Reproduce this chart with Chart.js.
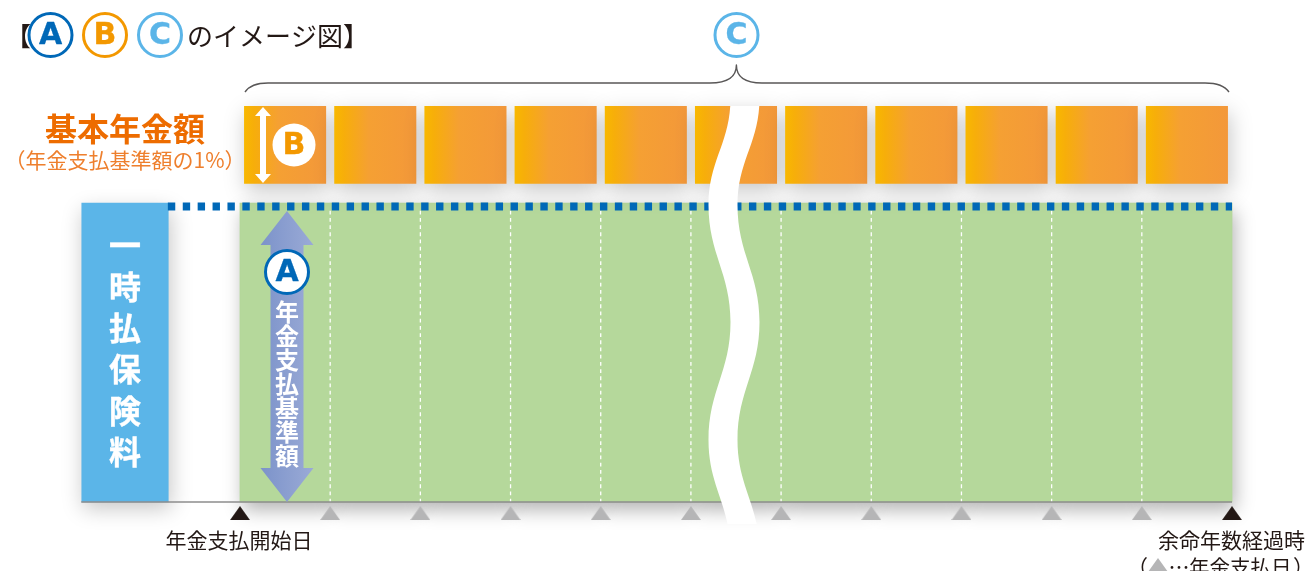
<!DOCTYPE html>
<html lang="ja">
<head>
<meta charset="utf-8">
<title>イメージ図</title>
<script src="https://cdn.jsdelivr.net/npm/chart.js@4"></script>
<style>
html, body { margin: 0; padding: 0; background: #fff; overflow: hidden; }
canvas { display: block; }
</style>
</head>
<body>
<canvas id="myChart" width="1305" height="571"></canvas>
<script>
// データ
var periods = ['1', '2', '3', '4', '5', '6', '7', '8', '9', '10', '11'];
var baseAmount = [100, 100, 100, 100, 100, 100, 100, 100, 100, 100, 100];
var annualLow = [106.4, 106.4, 106.4, 106.4, 106.4, 106.4, 106.4, 106.4, 106.4, 106.4, 106.4];
var annualHigh = [132.4, 132.4, 132.4, 132.4, 132.4, 132.4, 132.4, 132.4, 132.4, 132.4, 132.4];
var paymentDays = [1, 2, 3, 4, 5, 6, 7, 8, 9, 10];
var endDays = [0, 11];
var lumpSumAt = [-1.275];
var lumpSumValue = [100];
var premiumLineFrom = [-0.8];
var premiumLineValue = [98.8];
var axisFrom = [-1.76];
var dividerTop = [97.4];
var markerLevel = [-3.7];

var startLabel = '年金支払開始日';
var endLabel = '余命年数経過時';
var payLabel = '年金支払日';
var sideTitle = '基本年金額';
var sideNote = '（年金支払基準額の1%）';
var premiumLabel = ['一', '時', '払', '保', '険', '料'];
var baseLabel = ['年', '金', '支', '払', '基', '準', '額'];

var JP = '"Noto Sans CJK JP", sans-serif';
var LATIN = '"DejaVu Sans", sans-serif';
var BLUE = '#0068b7', ORANGE = '#f39800', SKY = '#5bb5e8', INK = '#231815', MARK = '#b5b5b6';

function orangeFill(c) {
    if (c.dataIndex === undefined) return ORANGE;
    var center = c.chart.scales.x.getPixelForValue(c.dataIndex);
    if (!isFinite(center)) return ORANGE; // レイアウト前
    var g = c.chart.ctx.createLinearGradient(center - 41, 0, center + 41, 0);
    g.addColorStop(0, '#f8b800');
    g.addColorStop(0.12, '#f7ae0a');
    g.addColorStop(0.42, '#f5a033');
    g.addColorStop(1, '#f3983a');
    return g;
}

// 三角マーカー
function triangleMark(color) {
    var c = document.createElement('canvas');
    c.width = 20;
    c.height = 14;
    var t = c.getContext('2d');
    t.beginPath();
    t.moveTo(10, 0);
    t.lineTo(20, 14);
    t.lineTo(0, 14);
    t.closePath();
    t.fillStyle = color;
    t.fill();
    return c;
}

function text(ctx, str, x, y, font, color, align) {
    ctx.font = font;
    ctx.fillStyle = color;
    ctx.textAlign = align || 'center';
    ctx.textBaseline = 'middle';
    ctx.fillText(str, x, y);
}

function heavyText(ctx, str, x, y, font, color, weight) {
    text(ctx, str, x, y, font, color);
    ctx.lineWidth = weight;
    ctx.lineJoin = 'round';
    ctx.strokeStyle = color;
    ctx.strokeText(str, x, y);
}

function badge(ctx, x, y, r, ring, fill, letter, color) {
    ctx.beginPath();
    ctx.arc(x, y, r, 0, Math.PI * 2);
    ctx.fillStyle = fill;
    ctx.fill();
    if (ring) {
        ctx.lineWidth = 3;
        ctx.strokeStyle = ring;
        ctx.stroke();
    }
    heavyText(ctx, letter, x, y + 1, 'bold 30px ' + LATIN, color, 0.3);
}

function arrow(ctx, x, top, bottom, shaft, head, headLen, fill) {
    ctx.beginPath();
    ctx.moveTo(x, top);
    ctx.lineTo(x + head / 2, top + headLen);
    ctx.lineTo(x + shaft / 2, top + headLen);
    ctx.lineTo(x + shaft / 2, bottom - headLen);
    ctx.lineTo(x + head / 2, bottom - headLen);
    ctx.lineTo(x, bottom);
    ctx.lineTo(x - head / 2, bottom - headLen);
    ctx.lineTo(x - shaft / 2, bottom - headLen);
    ctx.lineTo(x - shaft / 2, top + headLen);
    ctx.lineTo(x - head / 2, top + headLen);
    ctx.closePath();
    ctx.fillStyle = fill;
    ctx.fill();
}

// 影
var shadowPlugin = {
    id: 'shadowPlugin',
    beforeDatasetDraw: function(chart, args) {
        var s = chart.data.datasets[args.index].shadow;
        if (!s) return;
        var ctx = chart.ctx;
        ctx.save();
        ctx.shadowColor = s.color;
        ctx.shadowBlur = s.blur;
        ctx.shadowOffsetX = s.x;
        ctx.shadowOffsetY = s.y;
    },
    afterDatasetDraw: function(chart, args) {
        if (chart.data.datasets[args.index].shadow) chart.ctx.restore();
    }
};

// 波線と説明
var notesPlugin = {
    id: 'notesPlugin',
    afterDatasetsDraw: function(chart) {
        var ctx = chart.ctx;
        ctx.save();

        // 波線
        var y0 = 98, crests = [[745, 98], [723, 205], [745, 322], [723, 440], [745, 552]];
        ctx.save();
        ctx.beginPath();
        ctx.rect(690, 106, 90, 418);
        ctx.clip();
        ctx.beginPath();
        ctx.moveTo(crests[0][0] - 14.5, y0);
        var i, a, b, h;
        for (i = 1; i < crests.length; i++) {
            a = crests[i - 1]; b = crests[i]; h = (b[1] - a[1]) * 0.42;
            ctx.bezierCurveTo(a[0] - 14.5, a[1] + h, b[0] - 14.5, b[1] - h, b[0] - 14.5, b[1]);
        }
        ctx.lineTo(crests[4][0] + 14.5, crests[4][1]);
        for (i = crests.length - 1; i > 0; i--) {
            a = crests[i]; b = crests[i - 1]; h = (a[1] - b[1]) * 0.42;
            ctx.bezierCurveTo(a[0] + 14.5, a[1] - h, b[0] + 14.5, b[1] + h, b[0] + 14.5, b[1]);
        }
        ctx.closePath();
        ctx.fillStyle = '#fff';
        ctx.fill();
        ctx.restore();

        // タイトル
        text(ctx, '【', 5, 36, '500 26px ' + JP, INK, 'left');
        badge(ctx, 50.5, 35, 21.5, BLUE, '#fff', 'A', BLUE);
        badge(ctx, 105, 35, 21.5, ORANGE, '#fff', 'B', ORANGE);
        badge(ctx, 160, 35, 21.5, SKY, '#fff', 'C', SKY);
        text(ctx, 'のイメージ図】', 187, 36, '26px ' + JP, INK, 'left');

        // 括弧
        ctx.beginPath();
        ctx.moveTo(245, 92);
        ctx.quadraticCurveTo(251, 83, 268, 83);
        ctx.lineTo(710, 83);
        ctx.bezierCurveTo(727, 83, 736.4, 78, 736.4, 65);
        ctx.bezierCurveTo(736.4, 78, 746, 83, 762, 83);
        ctx.lineTo(1205, 83);
        ctx.quadraticCurveTo(1223, 83, 1229, 92);
        ctx.lineWidth = 1.4;
        ctx.strokeStyle = '#595757';
        ctx.stroke();
        badge(ctx, 736.5, 35, 21.5, SKY, '#fff', 'C', SKY);

        // 基本年金額
        text(ctx, sideTitle, 125, 129, 'bold 32px ' + JP, '#ed6c00');
        text(ctx, sideNote, 125, 160, '21px ' + JP, '#ee7f2d');
        arrow(ctx, 263, 107, 183, 6, 16, 9, '#fff');
        badge(ctx, 294, 145, 21.5, null, '#fff', 'B', ORANGE);

        // 一時払保険料
        premiumLabel.forEach(function(ch, k) {
            heavyText(ctx, ch, 125, 245 + k * 41.4, 'bold 32px ' + JP, '#fff', 0.4);
        });

        // 年金支払基準額
        var g = ctx.createLinearGradient(261, 0, 313, 0);
        g.addColorStop(0, '#7c93ca');
        g.addColorStop(1, '#9aaad6');
        arrow(ctx, 287, 211, 502, 33, 53, 34, g);
        badge(ctx, 287, 272, 21.5, BLUE, '#fff', 'A', BLUE);
        baseLabel.forEach(function(ch, k) {
            text(ctx, ch, 287, 312 + k * 23.9, 'bold 24px ' + JP, '#fff');
        });

        // 軸のラベル
        text(ctx, startLabel, 239, 540, '21px ' + JP, INK);
        text(ctx, endLabel, 1305, 540, '21px ' + JP, INK, 'right');
        text(ctx, '（', 1127, 567.5, '21px ' + JP, INK, 'left');
        ctx.drawImage(triangleMark(MARK), 1148, 558);
        text(ctx, '…', 1179, 567.5, '21px ' + JP, INK);
        text(ctx, payLabel, 1189, 567.5, '20.5px ' + JP, INK, 'left');
        text(ctx, '）', 1293, 567.5, '21px ' + JP, INK, 'left');

        ctx.restore();
    }
};

var softShadow = { color: 'rgba(0,0,0,0.22)', blur: 20, x: 2, y: 7 };
var baseShadow = { color: 'rgba(0,0,0,0.3)', blur: 18, x: 3, y: 8 };

var datasets = [
    {
        label: '年金支払基準額の影',
        data: baseAmount,
        backgroundColor: '#b5d89b',
        grouped: false,
        barPercentage: 1,
        categoryPercentage: 1,
        clip: false,
        order: 9,
        shadow: baseShadow
    },
    {
        label: '年金支払基準額',
        data: baseAmount,
        backgroundColor: '#b5d89b',
        borderColor: '#b5d89b',
        borderWidth: 0.5,
        grouped: false,
        barPercentage: 1,
        categoryPercentage: 1,
        clip: false,
        order: 8
    },
    {
        label: '基本年金額',
        data: annualLow.map(function(v, i) { return [v, annualHigh[i]]; }),
        backgroundColor: orangeFill,
        grouped: false,
        barPercentage: 0.91,
        categoryPercentage: 1,
        clip: false,
        order: 7,
        shadow: softShadow
    },
    {
        label: '一時払保険料',
        data: [{ x: lumpSumAt[0], y: lumpSumValue[0] }],
        xAxisID: 'x2',
        backgroundColor: SKY,
        grouped: false,
        barThickness: 86.5,
        clip: false,
        order: 7,
        shadow: softShadow
    },
    {
        type: 'line',
        label: '軸',
        data: [{ x: axisFrom[0], y: 0 }, { x: endDays[1], y: 0 }],
        xAxisID: 'x2',
        borderColor: '#8c8c8c',
        borderWidth: 1.5,
        pointRadius: 0,
        clip: false,
        order: 5
    },
    {
        type: 'line',
        label: '一時払保険料の水準',
        data: [{ x: premiumLineFrom[0], y: premiumLineValue[0] }, { x: endDays[1], y: premiumLineValue[0] }],
        xAxisID: 'x2',
        borderColor: BLUE,
        borderWidth: 8,
        borderDash: [7.4, 7.5],
        pointRadius: 0,
        clip: false,
        order: 4
    },
    {
        type: 'line',
        label: '年金支払日',
        data: paymentDays.map(function(d) { return { x: d, y: markerLevel[0] }; }),
        xAxisID: 'x2',
        showLine: false,
        pointStyle: triangleMark(MARK),
        pointRadius: 10,
        clip: false,
        order: 3
    },
    {
        type: 'line',
        label: '開始日と経過時',
        data: endDays.map(function(d) { return { x: d, y: markerLevel[0] }; }),
        xAxisID: 'x2',
        showLine: false,
        pointStyle: triangleMark(INK),
        pointRadius: 10,
        clip: false,
        order: 3
    }
];

// 点線
paymentDays.forEach(function(d) {
    datasets.push({
        type: 'line',
        label: '区切り' + d,
        data: [{ x: d, y: dividerTop[0] }, { x: d, y: 0 }],
        xAxisID: 'x2',
        borderColor: '#ffffff',
        borderWidth: 1.3,
        borderDash: [3.8, 3.4],
        pointRadius: 0,
        clip: false,
        order: 6
    });
});

var myChart = new Chart(document.getElementById('myChart').getContext('2d'), {
    type: 'bar',
    data: { labels: periods, datasets: datasets },
    plugins: [shadowPlugin, notesPlugin],
    options: {
        responsive: false,
        animation: false,
        events: [],
        layout: { padding: { left: 240, right: 73, top: 53.5, bottom: 39.1 } },
        plugins: { legend: { display: false }, tooltip: { enabled: false } },
        scales: {
            x: { display: false },
            x2: { type: 'linear', axis: 'x', display: false, offset: false, min: 0, max: 11 },
            y: { display: false, min: -10, max: 150 }
        }
    }
});
</script>
</body>
</html>
